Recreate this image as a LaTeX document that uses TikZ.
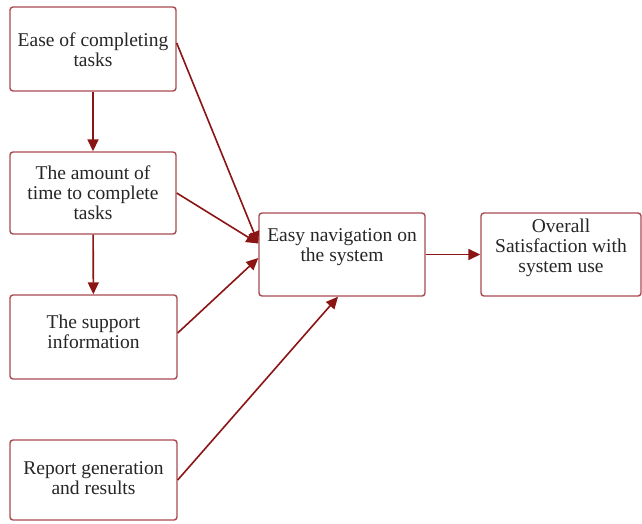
\documentclass[tikz,border=0pt]{standalone}
\usepackage{fontspec}
\setmainfont{Liberation Serif}
\usetikzlibrary{arrows.meta}
\definecolor{boxline}{HTML}{A84A52}
\definecolor{arr}{HTML}{8B1414}
\begin{document}
\begin{tikzpicture}[x=1pt,y=-1pt,
  box/.style={draw=boxline,line width=1.4pt,rounded corners=3pt,fill=white,inner sep=0pt},
  txt/.style={align=center,inner sep=0pt,text=black!85,
    font=\fontsize{19.5}{20}\selectfont},
  link/.style={draw=arr,line width=1.6pt,-{Triangle[length=12pt,width=11pt]}}]
\useasboundingbox[fill=white] (0,0) rectangle (642,523);
\node[box,minimum width=166pt,minimum height=84pt,label={[txt,yshift=-1pt]center:Ease of completing\\tasks}] (b1) at (93,49) {};
\node[box,minimum width=166pt,minimum height=82pt,label={[txt]center:The amount of\\time to complete\\tasks}] (b2) at (93,193) {};
\node[box,minimum width=167pt,minimum height=84pt,label={[txt,yshift=5pt]center:The support\\information}] (b3) at (93.5,337) {};
\node[box,minimum width=167pt,minimum height=80pt,label={[txt,yshift=2pt]center:Report generation\\and results}] (b4) at (93.5,480) {};
\node[box,minimum width=166pt,minimum height=83pt,label={[txt,yshift=7pt]center:Easy navigation on\\the system}] (b5) at (342,254.5) {};
\node[box,minimum width=160pt,minimum height=83pt,label={[txt,yshift=7pt]center:Overall\\Satisfaction with\\system use}] (b6) at (561,254.5) {};
\draw[link] (b1) -- (b2);
\draw[link] (b2) -- (b3);
\draw[link] ([yshift=6pt]b1.east) -- ([yshift=11pt]b5.west);
\draw[link] (b2.east) -- ([yshift=11pt]b5.west);
\draw[link] ([yshift=4pt]b3.east) -- ([yshift=-3.5pt]b5.west);
\draw[link] (b4.east) -- ([xshift=-4pt]b5.south);
\draw[link] (b5) -- (b6);
\end{tikzpicture}
\end{document}
